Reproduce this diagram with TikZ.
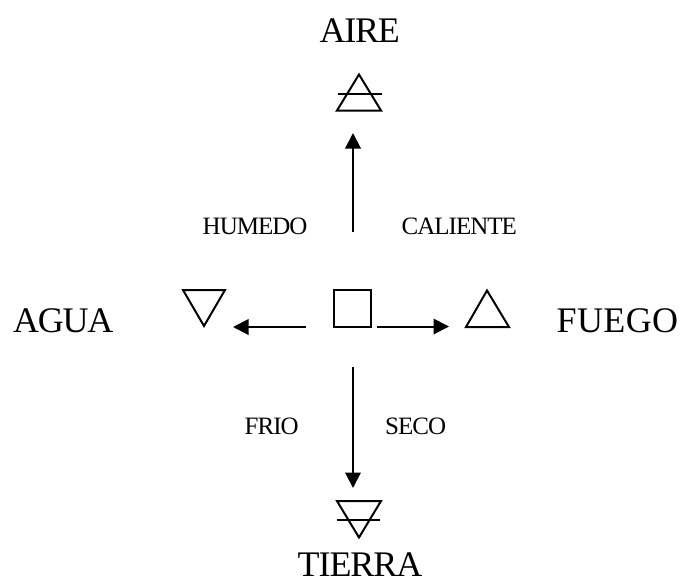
\documentclass[tikz,border=0pt]{standalone}
\usepackage{fontspec}
\setmainfont{Liberation Serif}
\usetikzlibrary{arrows.meta}
\newfontfamily\bigf[LetterSpace=-3.5]{Liberation Serif}
\newfontfamily\bigtight[LetterSpace=-3]{Liberation Serif}
\newfontfamily\bigwide[LetterSpace=1]{Liberation Serif}
\newfontfamily\smallf[LetterSpace=-4]{Liberation Serif}
\tikzset{
  x=1pt,y=-1pt,
  symb/.style={line width=2pt,line join=miter},
  conn/.style={line width=2pt,-{Triangle[length=15.5pt,width=15.5pt]}},
  big/.style={inner sep=0pt,anchor=base west},
  small/.style={inner sep=0pt,anchor=base west,font=\fontsize{25}{25}\selectfont\smallf},
}
\begin{document}
\begin{tikzpicture}
\useasboundingbox (0,0) rectangle (681,579);
% labels
\node[big,font=\fontsize{36}{36}\selectfont\bigf] (aire) at (319.5,42) {AIRE};
\node[big,font=\fontsize{36}{36}\selectfont\bigf] (agua) at (13,332) {AGUA};
\node[big,font=\fontsize{36}{36}\selectfont\bigwide] (fuego) at (556.5,332) {FUEGO};
\node[big,font=\fontsize{36}{36}\selectfont\bigtight] (tierra) at (297.5,576.5) {TIERRA};
\node[small] (humedo) at (202.5,234) {HUMEDO};
\node[small] (caliente) at (401.5,234) {CALIENTE};
\node[small] (frio) at (244.5,434) {FRIO};
\node[small] (seco) at (385,434) {SECO};
% symbols
\draw[symb] (359,74.5) -- (381,110.5) -- (337,110.5) -- cycle;
\draw[symb] (337.5,94) -- (382,94);
\draw[symb] (183,290) -- (225,290) -- (204,326) -- cycle;
\draw[symb] (334,290) rectangle (371,327);
\draw[symb] (487,290.5) -- (509,327) -- (466,327) -- cycle;
\draw[symb] (337,501) -- (381,501) -- (359,537.5) -- cycle;
\draw[symb] (337,520) -- (380,520);
% connectors
\coordinate (upA) at (353,232); \coordinate (upB) at (353,133);
\coordinate (lA) at (306,327); \coordinate (lB) at (233,327);
\coordinate (rA) at (377,326.5); \coordinate (rB) at (449,326.5);
\coordinate (dA) at (353,367); \coordinate (dB) at (353,488);
\draw[conn] (upA) -- (upB);
\draw[conn] (lA) -- (lB);
\draw[conn] (rA) -- (rB);
\draw[conn] (dA) -- (dB);
\end{tikzpicture}
\end{document}
